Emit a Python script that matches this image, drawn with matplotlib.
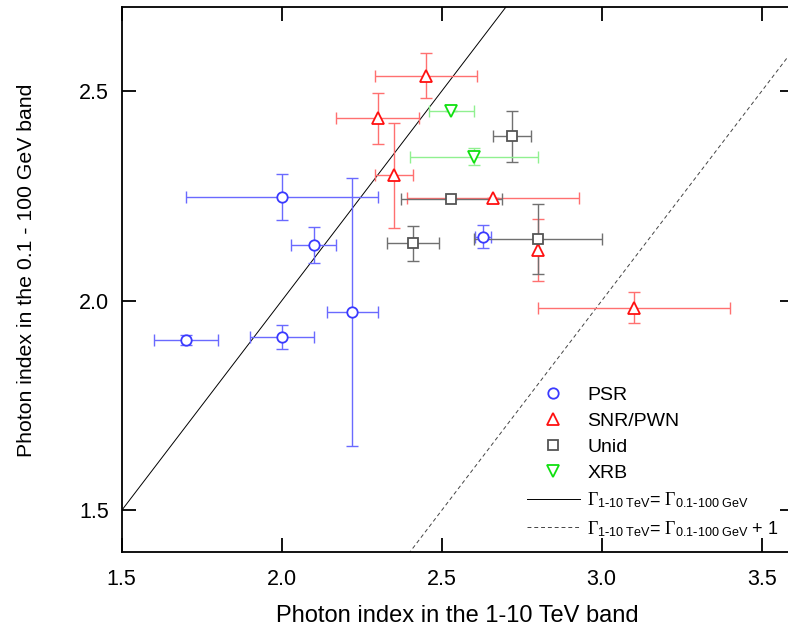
import matplotlib
matplotlib.use("Agg")
import matplotlib.pyplot as plt
import numpy as np

plt.rcParams['font.family'] = ['Liberation Sans', 'DejaVu Sans']
plt.rcParams['mathtext.fontset'] = 'custom'
plt.rcParams['mathtext.rm'] = 'Liberation Serif'
plt.rcParams['mathtext.sf'] = 'Liberation Sans'
plt.rcParams['mathtext.it'] = 'Liberation Serif:italic'

# PSR
psr_x = [2.00, 2.10, 2.22, 1.70, 2.00, 2.63]
psr_y = [2.248, 2.134, 1.974, 1.907, 1.913, 2.153]
psr_xerr = [0.30, 0.07, 0.08, 0.10, 0.10, 0.025]
psr_yerr = [0.055, 0.043, 0.32, 0.012, 0.028, 0.028]

# SNR/PWN
snr_x = [2.45, 2.30, 2.35, 2.66, 2.80, 3.10]
snr_y = [2.537, 2.435, 2.299, 2.244, 2.121, 1.983]
snr_xerr = [0.16, 0.13, 0.06, 0.27, 0.0, 0.30]
snr_yerr = [0.054, 0.06, 0.125, 0.0, 0.075, 0.037]

# Unid
unid_x = [2.53, 2.72, 2.80, 2.41]
unid_y = [2.242, 2.392, 2.148, 2.137]
unid_xerr = [0.157, 0.06, 0.20, 0.08]
unid_yerr = [0.0, 0.06, 0.083, 0.042]

# XRB
xrb_x = [2.53, 2.60]
xrb_y = [2.452, 2.344]
xrb_xerr = [0.07, 0.20]
xrb_yerr = [0.0, 0.02]

xticks = [1.5, 2.0, 2.5, 3.0, 3.5]
yticks = [1.5, 2.0, 2.5]

fig = plt.figure(figsize=(7.88, 6.34), dpi=100)
ax = fig.add_axes([121.7/788, (634-552.3)/634, 672/788, (552.3-7.3)/634])
ax.set_xlim(1.5, 3.6)
ax.set_ylim(1.4, 2.7)

series = [
    (psr_x, psr_y, psr_xerr, psr_yerr, 'o', '#3a3aff', '#6a6aff', 'PSR', 7.5),
    (snr_x, snr_y, snr_xerr, snr_yerr, '^', '#ff1010', '#ff7070', 'SNR/PWN', 8.5),
    (unid_x, unid_y, unid_xerr, unid_yerr, 's', '#555555', '#707070', 'Unid', 6.5),
    (xrb_x, xrb_y, xrb_xerr, xrb_yerr, 'v', '#10e010', '#90f090', 'XRB', 8.5),
]
handles = []
for x, y, xe, ye, m, mc, ec, lab, ms in series:
    ax.errorbar(x, y, xerr=xe, yerr=ye, fmt='none', ecolor=ec, elinewidth=1.0,
                capsize=4, capthick=1.0, zorder=2)
    h = ax.plot(x, y, linestyle='none', marker=m, markersize=ms,
                markerfacecolor='white', markeredgecolor=mc, markeredgewidth=1.3,
                label=lab, zorder=3)[0]
    handles.append(h)

lx = np.array([1.4, 3.7])
l1, = ax.plot(lx, lx, color='black', lw=0.7, zorder=1,
              label=r'$\Gamma_{\mathsf{1\text{-}10\ TeV}}$= $\Gamma_{\mathsf{0.1\text{-}100\ GeV}}$')
l2, = ax.plot(lx, lx - 1, color='#444444', lw=0.7, ls=(0, (4, 3)), zorder=1,
              label=r'$\Gamma_{\mathsf{1\text{-}10\ TeV}}$= $\Gamma_{\mathsf{0.1\text{-}100\ GeV}}$ + 1')
handles += [l1, l2]

ax.set_xticks(xticks)
ax.set_xticklabels([f'{t:.1f}' for t in xticks])
ax.set_yticks(yticks)
ax.set_yticklabels([f'{t:.1f}' for t in yticks])
ax.tick_params(direction='in', length=10, width=1.3, labelsize=15.5,
               top=True, right=True)
ax.tick_params(axis='x', pad=12)
ax.tick_params(axis='y', pad=9)
for s in ax.spines.values():
    s.set_linewidth(1.3)

ax.set_xlabel('Photon index in the 1-10 TeV band', fontsize=17, labelpad=10.5)
ax.set_ylabel('Photon index in the 0.1 - 100 GeV band', fontsize=15.3)
ax.yaxis.set_label_coords(-0.127, 0.518)

leg = fig.legend(handles=handles, loc='upper left',
                 bbox_to_anchor=(527/788, 1 - 386/634), frameon=False,
                 fontsize=14, handlelength=2.7, handletextpad=0.4,
                 labelspacing=0.44, borderpad=0, borderaxespad=0, numpoints=1)
for t in leg.get_texts()[4:]:
    t.set_fontsize(13)

fig.savefig('out.png', dpi=100)
